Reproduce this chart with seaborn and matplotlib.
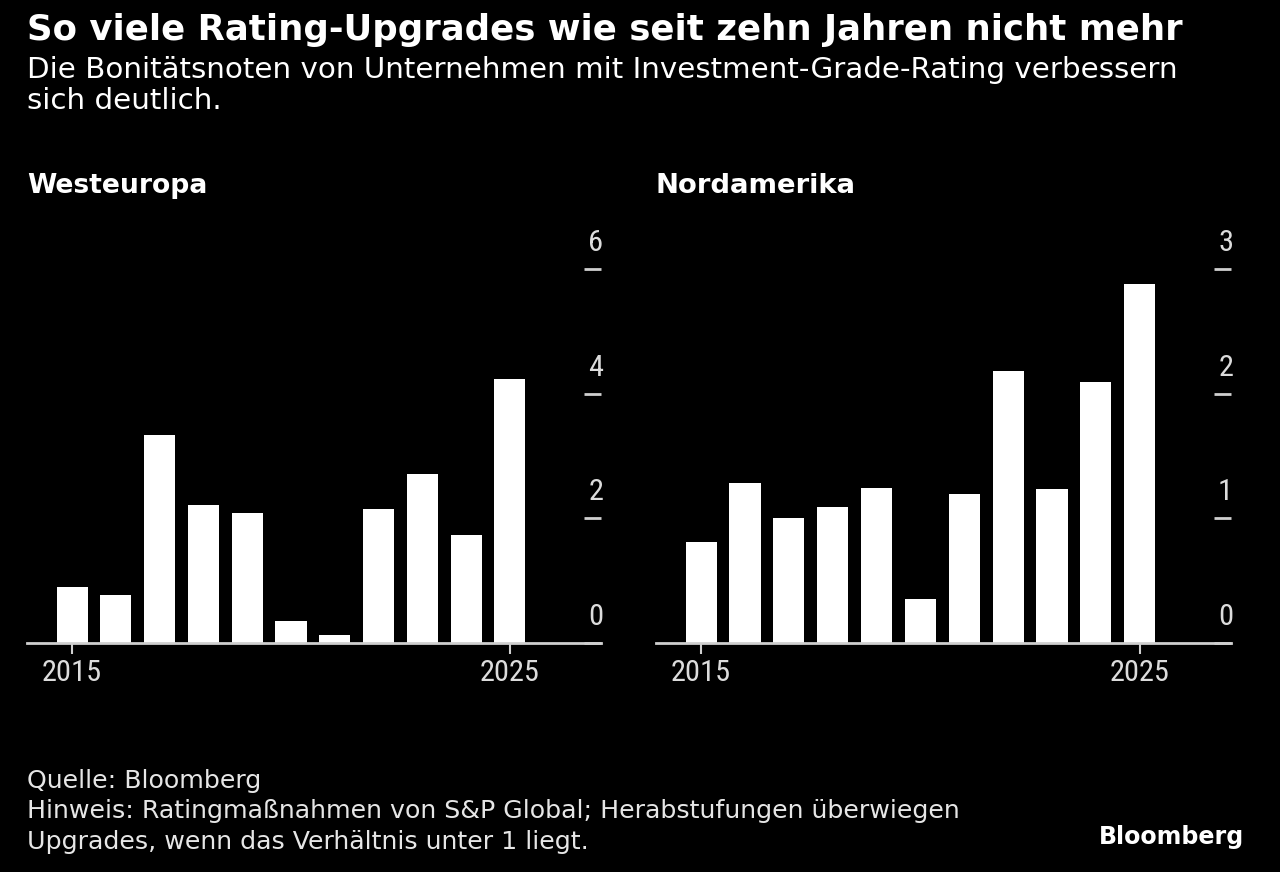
import matplotlib
matplotlib.use("Agg")
import matplotlib.pyplot as plt
import pandas as pd
import seaborn as sns
from matplotlib import font_manager

# values
years = list(range(2015, 2026))
westeuropa = [0.90, 0.77, 3.33, 2.21, 2.08, 0.35, 0.13, 2.15, 2.71, 1.73, 4.23]
nordamerika = [0.81, 1.28, 1.00, 1.09, 1.24, 0.35, 1.19, 2.18, 1.23, 2.09, 2.88]
west_yticks = [0, 2, 4, 6]
nord_yticks = [0, 1, 2, 3]
year_ticks = [2015, 2025]

title = "So viele Rating-Upgrades wie seit zehn Jahren nicht mehr"
subtitle_lines = [
    "Die Bonitätsnoten von Unternehmen mit Investment-Grade-Rating verbessern",
    "sich deutlich.",
]
note_lines = [
    "Quelle: Bloomberg",
    "Hinweis: Ratingmaßnahmen von S&P Global; Herabstufungen überwiegen",
    "Upgrades, wenn das Verhältnis unter 1 liegt.",
]

W, H = 1280, 872
BG = "black"
AXIS_GREY = "#cfcfcf"
NOTE_GREY = "#e6e6e6"

sns.set_theme(style="dark")
plt.rcParams["font.family"] = ["DejaVu Sans"]


def first_font(names):
    for name in names:
        try:
            font_manager.findfont(name, fallback_to_default=False)
            return name
        except Exception:
            continue
    return "DejaVu Sans"


narrow = first_font(["Liberation Sans Narrow", "Roboto Condensed", "Open Sans Condensed", "DejaVu Sans"])

fig = plt.figure(figsize=(W / 100, H / 100), dpi=100, facecolor=BG)
renderer = fig.canvas.get_renderer()


def fit_text(x, y, s, width, size=16, ha="left", **kw):
    """Put text at pixel (x, baseline y) and scale it to the given pixel width."""
    t = fig.text(x / W, 1 - y / H, s, ha=ha, va="baseline", fontsize=size, **kw)
    w = t.get_window_extent(renderer).width
    t.set_fontsize(size * width / w)
    return t


fit_text(27, 40, title, 1156, color="white", fontweight="bold")
sub = fit_text(27, 78, subtitle_lines[0], 1156, color="white")
fig.text(27 / W, 1 - 109 / H, subtitle_lines[1], ha="left", va="baseline",
         fontsize=sub.get_fontsize(), color="white")

note = fit_text(27, 818, note_lines[1], 936, color=NOTE_GREY)
for line, y in ((note_lines[0], 788), (note_lines[2], 849)):
    fig.text(27 / W, 1 - y / H, line, ha="left", va="baseline",
             fontsize=note.get_fontsize(), color=NOTE_GREY)
fit_text(1244, 844, "Bloomberg", 146, ha="right", color="white", fontweight="bold")

df = pd.DataFrame({
    "year": years * 2,
    "ratio": westeuropa + nordamerika,
    "region": ["Westeuropa"] * len(years) + ["Nordamerika"] * len(years),
})

panels = [
    ("Westeuropa", 27, 601, 201, west_yticks),
    ("Nordamerika", 656, 1231, 201, nord_yticks),
]
# tick label size: fit "2015" to ~60 px wide
probe = fig.text(0, 0, "2015", fontsize=16, family=[narrow, "DejaVu Sans"])
tick_size = 16 * 60 / probe.get_window_extent(renderer).width
probe.remove()

panel_title_widths = {"Westeuropa": 181, "Nordamerika": 201}
top_px, base_px = 269, 642.7

for name, x0, x1, _, yticks in panels:
    fit_text(x0, 193, name, panel_title_widths[name], color="white", fontweight="bold")
    ax = fig.add_axes([x0 / W, 1 - base_px / H, (x1 - x0) / W, (base_px - top_px) / H])
    ax.set_facecolor(BG)
    sub_df = df[df["region"] == name]
    sns.barplot(data=sub_df, x="year", y="ratio", native_scale=True, color="white",
                saturation=1, width=0.71, linewidth=0, ax=ax)
    ax.set_xlim(2013.97, 2027.08)
    ax.set_ylim(yticks[0], yticks[-1])
    ax.grid(False)
    for side in ("top", "left", "right"):
        ax.spines[side].set_visible(False)
    ax.spines["bottom"].set_color(AXIS_GREY)
    ax.spines["bottom"].set_linewidth(2)
    ax.set_xlabel("")
    ax.set_ylabel("")

    ax.set_xticks(year_ticks)
    ax.set_xticklabels([str(y) for y in year_ticks], family=[narrow, "DejaVu Sans"])
    ax.tick_params(axis="x", bottom=True, colors=AXIS_GREY, labelcolor="#dcdcdc",
                   length=8, width=1.5, pad=4, labelsize=tick_size)

    ax.yaxis.tick_right()
    ax.set_yticks(yticks)
    ax.set_yticklabels([])
    ax.tick_params(axis="y", right=True, direction="in", length=12, width=2,
                   colors=AXIS_GREY)
    for v in yticks:
        ax.annotate(str(v), xy=(1, v), xycoords=("axes fraction", "data"),
                    xytext=(2, 18), textcoords="offset pixels", ha="right",
                    va="baseline", color="#dcdcdc", fontsize=tick_size,
                    family=[narrow, "DejaVu Sans"], annotation_clip=False)

fig.savefig("out.png", dpi=100, facecolor=BG)
